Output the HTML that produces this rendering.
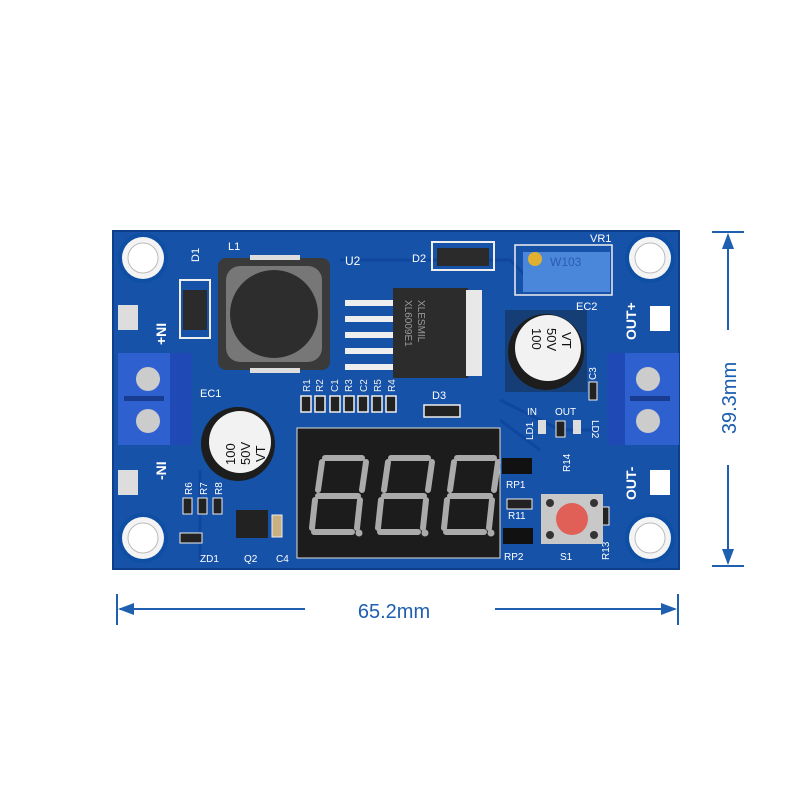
<!DOCTYPE html>
<html><head><meta charset="utf-8"><style>
html,body{margin:0;padding:0;background:#fff;width:800px;height:800px;overflow:hidden}
svg{display:block}
text{font-family:"Liberation Sans",sans-serif}
</style></head><body>
<svg width="800" height="800" viewBox="0 0 800 800" xmlns="http://www.w3.org/2000/svg">
<rect width="800" height="800" fill="#fff"/>
<!-- board -->
<rect x="113" y="231" width="566" height="338" fill="#1552a8"/>
<rect x="113" y="231" width="566" height="338" fill="none" stroke="#0d3f8a" stroke-width="2"/>
<!-- traces -->
<g stroke="#0f47a0" stroke-width="3" fill="none">
<path d="M340 260 L510 260 L540 290"/>
<path d="M500 400 L560 430 L600 430"/>
<path d="M500 420 L540 450"/>
<path d="M200 470 L200 560"/>
</g>
<!-- mount holes -->
<g>
<circle cx="143" cy="258" r="25" fill="#0f4fa3"/><circle cx="143" cy="258" r="21" fill="#f4f4f4"/><circle cx="143" cy="258" r="15" fill="#fff" stroke="#bbb" stroke-width="1"/>
<circle cx="650" cy="258" r="25" fill="#0f4fa3"/><circle cx="650" cy="258" r="21" fill="#f4f4f4"/><circle cx="650" cy="258" r="15" fill="#fff" stroke="#bbb" stroke-width="1"/>
<circle cx="143" cy="538" r="25" fill="#0f4fa3"/><circle cx="143" cy="538" r="21" fill="#f4f4f4"/><circle cx="143" cy="538" r="15" fill="#fff" stroke="#bbb" stroke-width="1"/>
<circle cx="650" cy="538" r="25" fill="#0f4fa3"/><circle cx="650" cy="538" r="21" fill="#f4f4f4"/><circle cx="650" cy="538" r="15" fill="#fff" stroke="#bbb" stroke-width="1"/>
</g>
<!-- pads -->
<rect x="118" y="305" width="20" height="25" fill="#ddd"/>
<rect x="118" y="470" width="20" height="25" fill="#ddd"/>
<rect x="650" y="306" width="20" height="25" fill="#fff"/>
<rect x="650" y="470" width="20" height="25" fill="#fff"/>
<!-- D1 -->
<rect x="180" y="280" width="30" height="58" fill="none" stroke="#eee" stroke-width="2"/>
<rect x="183" y="290" width="24" height="40" fill="#2b2b2b"/>
<text x="0" y="0" transform="translate(199,262) rotate(-90)" fill="#fff" font-size="11">D1</text>
<!-- inductor -->
<rect x="218" y="258" width="112" height="112" rx="8" fill="#3a3a3a"/>
<rect x="226" y="266" width="96" height="96" rx="14" fill="#777"/>
<circle cx="274" cy="314" r="44" fill="#2d2d2d"/>
<rect x="250" y="255" width="50" height="5" fill="#ddd"/>
<rect x="250" y="368" width="50" height="5" fill="#ddd"/>
<text x="228" y="250" fill="#fff" font-size="11">L1</text>
<text x="345" y="265" fill="#fff" font-size="12">U2</text>
<!-- U2 pins -->
<g fill="#eee"><rect x="345" y="300" width="48" height="6"/><rect x="345" y="316" width="48" height="6"/><rect x="345" y="332" width="48" height="6"/><rect x="345" y="348" width="48" height="6"/><rect x="345" y="364" width="48" height="6"/></g>
<rect x="393" y="288" width="75" height="90" fill="#2c2c2c"/>
<rect x="466" y="290" width="16" height="86" fill="#e8e8e8"/>
<text transform="translate(418,300) rotate(90)" fill="#999" font-size="10">XLESMIL</text>
<text transform="translate(405,300) rotate(90)" fill="#999" font-size="10">XL6009E1</text>
<text transform="translate(392,305) rotate(90)" fill="#999" font-size="10"></text>
<!-- D2 -->
<text x="412" y="262" fill="#fff" font-size="11">D2</text>
<rect x="432" y="242" width="62" height="28" fill="none" stroke="#eee" stroke-width="2"/>
<rect x="437" y="248" width="52" height="18" fill="#2b2b2b"/>
<!-- VR1 -->
<text x="590" y="242" fill="#fff" font-size="11">VR1</text>
<rect x="515" y="245" width="97" height="50" fill="none" stroke="#eee" stroke-width="1.5"/>
<rect x="523" y="252" width="87" height="40" fill="#4a86d9"/>
<circle cx="535" cy="259" r="7" fill="#e0b030"/>
<text x="550" y="266" fill="#2c5cb0" font-size="12">W103</text>
<!-- EC2 -->
<text x="576" y="310" fill="#fff" font-size="11">EC2</text>
<rect x="505" y="310" width="82" height="82" fill="#1a1a1a" opacity=".35"/>
<circle cx="546" cy="352" r="38" fill="#1d1d1d"/>
<circle cx="548" cy="348" r="33" fill="#f2f2f2"/>
<text transform="translate(532,328) rotate(90)" fill="#111" font-size="13">100</text>
<text transform="translate(547,328) rotate(90)" fill="#111" font-size="13">50V</text>
<text transform="translate(562,332) rotate(90)" fill="#111" font-size="13">VT</text>
<!-- EC1 -->
<text x="200" y="397" fill="#fff" font-size="11">EC1</text>
<circle cx="238" cy="444" r="37" fill="#1d1d1d"/>
<circle cx="240" cy="442" r="31" fill="#f2f2f2"/>
<text transform="translate(235,465) rotate(-90)" fill="#111" font-size="13">100</text>
<text transform="translate(250,465) rotate(-90)" fill="#111" font-size="13">50V</text>
<text transform="translate(265,462) rotate(-90)" fill="#111" font-size="13">VT</text>
<!-- terminal blocks -->
<rect x="118" y="353" width="74" height="92" fill="#2f60d0"/>
<rect x="170" y="353" width="22" height="92" fill="#1f4ab5"/>
<circle cx="148" cy="379" r="12" fill="#ccc"/><circle cx="148" cy="421" r="12" fill="#ccc"/>
<rect x="124" y="396" width="40" height="5" fill="#173c90"/>
<rect x="607" y="353" width="72" height="92" fill="#2f60d0"/>
<rect x="607" y="353" width="18" height="92" fill="#1f4ab5"/>
<circle cx="648" cy="379" r="12" fill="#ccc"/><circle cx="648" cy="421" r="12" fill="#ccc"/>
<rect x="630" y="396" width="40" height="5" fill="#173c90"/>
<!-- labels -->
<text transform="translate(166,345) rotate(-90)" fill="#fff" font-size="14" font-weight="bold">+NI</text>
<text transform="translate(166,480) rotate(-90)" fill="#fff" font-size="14" font-weight="bold">-NI</text>
<text transform="translate(636,340) rotate(-90)" fill="#fff" font-size="14" font-weight="bold">OUT+</text>
<text transform="translate(636,500) rotate(-90)" fill="#fff" font-size="14" font-weight="bold">OUT-</text>
<!-- small resistors row -->
<g fill="#eee" font-size="10">
<text transform="translate(310,392) rotate(-90)">R1</text><text transform="translate(323,392) rotate(-90)">R2</text><text transform="translate(338,392) rotate(-90)">C1</text><text transform="translate(352,392) rotate(-90)">R3</text><text transform="translate(367,392) rotate(-90)">C2</text><text transform="translate(381,392) rotate(-90)">R5</text><text transform="translate(395,392) rotate(-90)">R4</text>
</g>
<g fill="#222" stroke="#eee" stroke-width="1.5">
<rect x="301" y="396" width="10" height="16"/><rect x="315" y="396" width="10" height="16"/><rect x="330" y="396" width="10" height="16"/><rect x="344" y="396" width="10" height="16"/><rect x="358" y="396" width="10" height="16"/><rect x="372" y="396" width="10" height="16"/><rect x="386" y="396" width="10" height="16"/>
</g>
<text x="432" y="399" fill="#fff" font-size="11">D3</text>
<rect x="424" y="405" width="36" height="12" fill="#222" stroke="#eee" stroke-width="1.5"/>
<!-- display -->
<rect x="297" y="428" width="203" height="130" fill="#1c1c1c" stroke="#ddd" stroke-width="1"/>
<g fill="none" stroke="#aaa" stroke-width="6" stroke-linecap="round">
<path d="M325 458 L362 458 M322 462 L318 490 M366 462 L362 490 M318 496 L358 496 M315 500 L312 528 M360 500 L357 528 M314 532 L352 532"/>
<path d="M391 458 L428 458 M388 462 L384 490 M432 462 L428 490 M384 496 L424 496 M381 500 L378 528 M426 500 L423 528 M380 532 L418 532"/>
<path d="M457 458 L494 458 M454 462 L450 490 M498 462 L494 490 M450 496 L490 496 M447 500 L444 528 M492 500 L489 528 M446 532 L484 532"/>
</g>
<circle cx="359" cy="533" r="3.5" fill="#aaa"/><circle cx="425" cy="533" r="3.5" fill="#aaa"/><circle cx="491" cy="533" r="3.5" fill="#aaa"/>
<!-- right small parts -->
<g fill="#fff" font-size="10">
<text x="527" y="415">IN</text><text x="555" y="415">OUT</text>
<text x="506" y="488">RP1</text><text x="508" y="519">R11</text><text x="504" y="560">RP2</text><text x="560" y="560">S1</text>
<text transform="translate(533,440) rotate(-90)">LD1</text>
<text transform="translate(570,472) rotate(-90)">R14</text>
<text transform="translate(609,560) rotate(-90)">R13</text>
<text transform="translate(592,420) rotate(90)">LD2</text>
<text transform="translate(596,380) rotate(-90)">C3</text>
</g>
<rect x="538" y="420" width="8" height="14" fill="#ddd"/><rect x="573" y="420" width="8" height="14" fill="#ddd"/>
<rect x="556" y="421" width="9" height="16" fill="#222" stroke="#eee"/>
<rect x="502" y="458" width="30" height="16" fill="#111"/><rect x="503" y="528" width="30" height="16" fill="#111"/>
<rect x="507" y="499" width="25" height="10" fill="#222" stroke="#eee"/>
<rect x="600" y="507" width="9" height="18" fill="#222" stroke="#eee"/>
<rect x="589" y="382" width="8" height="18" fill="#222" stroke="#eee"/>
<!-- switch -->
<rect x="541" y="494" width="62" height="50" fill="#c8c8c8"/>
<circle cx="572" cy="519" r="16" fill="#e06058"/>
<circle cx="550" cy="503" r="4" fill="#333"/><circle cx="594" cy="503" r="4" fill="#333"/><circle cx="550" cy="535" r="4" fill="#333"/><circle cx="594" cy="535" r="4" fill="#333"/>
<!-- bottom left -->
<g fill="#fff" font-size="10">
<text transform="translate(192,495) rotate(-90)">R6</text><text transform="translate(207,495) rotate(-90)">R7</text><text transform="translate(222,495) rotate(-90)">R8</text>
<text x="200" y="562">ZD1</text><text x="244" y="562">Q2</text><text x="276" y="562">C4</text>
</g>
<g fill="#222" stroke="#eee"><rect x="183" y="498" width="9" height="16"/><rect x="198" y="498" width="9" height="16"/><rect x="213" y="498" width="9" height="16"/></g>
<rect x="180" y="533" width="22" height="10" fill="#222" stroke="#eee"/>
<rect x="236" y="510" width="32" height="28" fill="#222"/>
<rect x="272" y="515" width="10" height="22" fill="#c8b080" stroke="#eee"/>
<!-- dimensions -->
<g stroke="#1e5fb0" stroke-width="2" fill="#1e5fb0">
<line x1="117" y1="594" x2="117" y2="625"/><line x1="678" y1="594" x2="678" y2="625"/>
<line x1="120" y1="609" x2="305" y2="609"/><line x1="495" y1="609" x2="675" y2="609"/>
<path d="M118 609 L134 603 L134 615 Z" stroke="none"/><path d="M677 609 L661 603 L661 615 Z" stroke="none"/>
<line x1="712" y1="232" x2="744" y2="232"/><line x1="712" y1="566" x2="744" y2="566"/>
<line x1="728" y1="235" x2="728" y2="330"/><line x1="728" y1="465" x2="728" y2="563"/>
<path d="M728 233 L722 249 L734 249 Z" stroke="none"/><path d="M728 565 L722 549 L734 549 Z" stroke="none"/>
</g>
<text x="394" y="618" text-anchor="middle" fill="#1e5fb0" font-size="20">65.2mm</text>
<text transform="translate(736,398) rotate(-90)" text-anchor="middle" fill="#1e5fb0" font-size="20">39.3mm</text>
</svg>
</body></html>
